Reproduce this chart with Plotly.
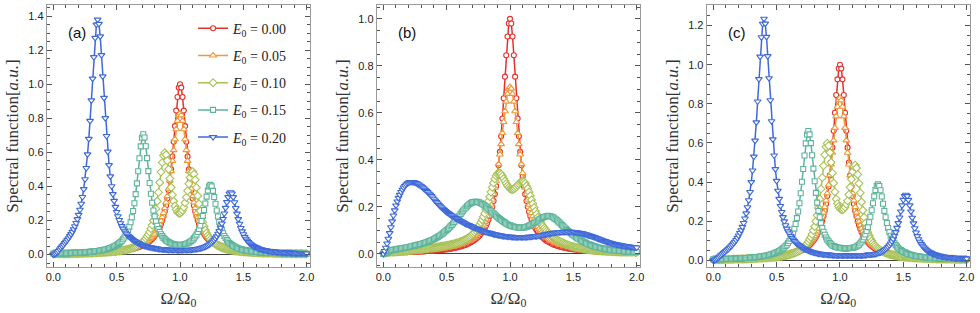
import plotly.graph_objects as go

# Sampling grid of Omega/Omega_0 (step 0.01)
X = [round(0.01 * i, 2) for i in range(201)]

labels = ["0.00", "0.05", "0.10", "0.15", "0.20"]

red = [.005,.005,.005,.005,.005,.005,.006,.006,.006,.006,
       .006,.006,.006,.006,.007,.007,.007,.007,.007,.007,
       .008,.008,.008,.008,.008,.009,.009,.009,.009,.010,
       .010,.010,.010,.011,.011,.012,.012,.012,.013,.013,
       .013,.014,.014,.015,.015,.016,.017,.017,.018,.019,
       .019,.020,.021,.022,.023,.024,.025,.026,.027,.028,
       .030,.031,.033,.035,.036,.038,.041,.043,.046,.049,
       .052,.055,.059,.063,.068,.073,.078,.085,.092,.100,
       .109,.120,.131,.145,.161,.179,.200,.225,.254,.288,
       .329,.377,.434,.500,.576,.662,.754,.845,.925,.980,
       1.000,
       .980,.925,.845,.754,.662,.576,.500,.434,.377,.329,
       .288,.254,.225,.200,.179,.161,.145,.131,.120,.109,
       .100,.092,.085,.078,.073,.068,.063,.059,.055,.052,
       .049,.046,.043,.041,.038,.036,.035,.033,.031,.030,
       .028,.027,.026,.025,.024,.023,.022,.021,.020,.019,
       .019,.018,.017,.017,.016,.015,.015,.014,.014,.013,
       .013,.013,.012,.012,.012,.011,.011,.010,.010,.010,
       .010,.009,.009,.009,.009,.008,.008,.008,.008,.008,
       .007,.007,.007,.007,.007,.007,.006,.006,.006,.006,
       .006,.006,.006,.006,.005,.005,.005,.005,.005,.005]

orange_ac = [.006,.006,.006,.006,.006,.006,.007,.007,.007,.007,
             .007,.007,.008,.008,.008,.008,.008,.008,.009,.009,
             .009,.009,.010,.010,.010,.010,.011,.011,.011,.012,
             .012,.012,.013,.013,.013,.014,.014,.015,.015,.016,
             .016,.017,.017,.018,.018,.019,.020,.020,.021,.022,
             .023,.024,.025,.026,.027,.028,.029,.031,.032,.033,
             .035,.037,.039,.041,.043,.045,.048,.051,.054,.057,
             .060,.064,.069,.073,.078,.084,.091,.098,.106,.114,
             .124,.136,.148,.163,.179,.198,.220,.244,.273,.306,
             .343,.386,.435,.490,.550,.613,.677,.736,.785,.818,
             .830,
             .818,.785,.736,.677,.613,.550,.490,.435,.386,.343,
             .306,.273,.244,.220,.198,.179,.163,.148,.136,.124,
             .114,.106,.098,.091,.084,.078,.073,.069,.064,.060,
             .057,.054,.051,.048,.045,.043,.041,.039,.037,.035,
             .033,.032,.031,.029,.028,.027,.026,.025,.024,.023,
             .022,.021,.020,.020,.019,.018,.018,.017,.017,.016,
             .016,.015,.015,.014,.014,.013,.013,.013,.012,.012,
             .012,.011,.011,.011,.010,.010,.010,.010,.009,.009,
             .009,.009,.008,.008,.008,.008,.008,.008,.007,.007,
             .007,.007,.007,.007,.006,.006,.006,.006,.006,.006]

orange_b = [.007,.007,.007,.007,.007,.007,.008,.008,.008,.008,
            .008,.008,.009,.009,.009,.009,.009,.010,.010,.010,
            .010,.011,.011,.011,.011,.012,.012,.012,.013,.013,
            .013,.014,.014,.015,.015,.016,.016,.016,.017,.018,
            .018,.019,.019,.020,.021,.021,.022,.023,.024,.025,
            .026,.027,.028,.029,.030,.032,.033,.034,.036,.038,
            .039,.041,.043,.046,.048,.051,.053,.056,.060,.063,
            .067,.071,.076,.081,.087,.093,.100,.107,.116,.125,
            .135,.147,.160,.174,.191,.209,.230,.254,.281,.311,
            .344,.382,.423,.467,.514,.561,.607,.648,.681,.703,
            .710,
            .703,.681,.648,.607,.561,.514,.467,.423,.382,.344,
            .311,.281,.254,.230,.209,.191,.174,.160,.147,.135,
            .125,.116,.107,.100,.093,.087,.081,.076,.071,.067,
            .063,.060,.056,.053,.051,.048,.046,.043,.041,.039,
            .038,.036,.034,.033,.032,.030,.029,.028,.027,.026,
            .025,.024,.023,.022,.021,.021,.020,.019,.019,.018,
            .018,.017,.016,.016,.016,.015,.015,.014,.014,.013,
            .013,.013,.012,.012,.012,.011,.011,.011,.011,.010,
            .010,.010,.010,.009,.009,.009,.009,.009,.008,.008,
            .008,.008,.008,.008,.007,.007,.007,.007,.007,.007]

green_a = [.004,.004,.004,.004,.004,.004,.004,.005,.005,.005,
           .005,.005,.005,.005,.006,.006,.006,.006,.006,.006,
           .007,.007,.007,.007,.007,.008,.008,.008,.008,.009,
           .009,.009,.010,.010,.010,.011,.011,.012,.012,.013,
           .013,.013,.014,.014,.015,.016,.016,.017,.017,.018,
           .019,.020,.021,.022,.023,.025,.026,.027,.029,.031,
           .033,.035,.038,.040,.043,.047,.050,.054,.059,.064,
           .070,.077,.085,.095,.106,.118,.133,.152,.173,.200,
           .230,.268,.313,.365,.423,.484,.540,.581,.598,.586,
           .551,.501,.446,.395,.350,.313,.285,.265,.250,.244,
           .242,.249,.260,.278,.304,.336,.374,.415,.453,.479,
           .487,.472,.439,.393,.345,.298,.256,.220,.190,.166,
           .144,.127,.112,.100,.089,.080,.073,.066,.061,.056,
           .051,.047,.044,.041,.038,.036,.033,.031,.029,.028,
           .026,.025,.024,.022,.021,.020,.019,.019,.018,.017,
           .016,.016,.015,.014,.014,.013,.013,.012,.012,.011,
           .011,.011,.010,.010,.010,.009,.009,.009,.009,.008,
           .008,.008,.008,.008,.007,.007,.007,.007,.007,.007,
           .006,.006,.006,.006,.006,.006,.006,.006,.005,.005,
           .005,.005,.005,.005,.005,.005,.005,.005,.004,.004,
           .004]

teal_a = [.006,.006,.006,.006,.006,.007,.007,.007,.007,.007,
          .008,.008,.008,.008,.009,.009,.009,.010,.010,.010,
          .011,.011,.012,.012,.012,.013,.014,.014,.015,.016,
          .017,.017,.018,.019,.020,.021,.022,.023,.025,.026,
          .028,.030,.031,.033,.036,.038,.041,.044,.048,.051,
          .056,.061,.067,.073,.081,.090,.100,.112,.127,.144,
          .164,.190,.219,.256,.301,.355,.418,.489,.565,.635,
          .686,.706,.687,.636,.566,.490,.420,.357,.304,.259,
          .223,.195,.169,.150,.133,.119,.108,.098,.090,.083,
          .078,.073,.069,.065,.063,.060,.059,.057,.057,.056,
          .056,.057,.057,.059,.061,.063,.066,.070,.075,.080,
          .087,.095,.106,.117,.132,.150,.171,.197,.227,.262,
          .300,.340,.376,.400,.409,.400,.374,.338,.298,.259,
          .223,.192,.166,.144,.125,.109,.097,.086,.077,.068,
          .062,.056,.051,.047,.043,.040,.036,.034,.032,.029,
          .028,.026,.024,.023,.022,.020,.019,.018,.017,.017,
          .016,.015,.014,.014,.013,.013,.012,.012,.012,.011,
          .011,.010,.010,.010,.009,.009,.009,.009,.008,.008,
          .008,.008,.007,.007,.007,.007,.007,.006,.006,.006,
          .006,.006,.006,.005,.005,.005,.005,.005,.005,.005,
          .005]

blue_a = [.000,.002,.006,.013,.021,.030,.039,.048,.057,.067,
          .076,.086,.096,.108,.120,.133,.149,.166,.185,.208,
          .233,.263,.298,.338,.384,.442,.508,.588,.679,.785,
          .905,1.033,1.159,1.272,1.350,1.379,1.354,1.281,1.171,1.046,
          .920,.801,.696,.604,.525,.459,.401,.355,.315,.280,
          .250,.225,.203,.184,.167,.152,.140,.129,.119,.110,
          .104,.098,.091,.085,.080,.076,.071,.067,.064,.060,
          .057,.054,.051,.049,.047,.045,.044,.042,.040,.039,
          .038,.036,.035,.034,.033,.032,.031,.031,.030,.029,
          .029,.028,.028,.028,.027,.027,.027,.027,.026,.026,
          .026,.026,.027,.027,.027,.027,.027,.028,.028,.029,
          .030,.031,.032,.033,.034,.035,.037,.039,.041,.044,
          .047,.050,.054,.059,.064,.070,.077,.085,.095,.107,
          .122,.138,.158,.182,.209,.241,.274,.308,.337,.358,
          .366,.358,.337,.307,.273,.240,.208,.181,.156,.136,
          .119,.104,.093,.082,.074,.066,.060,.054,.050,.045,
          .042,.039,.036,.033,.031,.029,.027,.026,.024,.023,
          .021,.020,.019,.018,.018,.017,.016,.015,.015,.014,
          .013,.013,.012,.012,.012,.011,.011,.010,.010,.010,
          .010,.009,.009,.009,.009,.008,.008,.008,.008,.008,
          .007]

green_b = [.002,.003,.004,.005,.006,.006,.007,.007,.008,.008,
           .009,.009,.010,.010,.011,.011,.012,.012,.013,.013,
           .014,.014,.015,.015,.016,.016,.017,.017,.018,.018,
           .019,.019,.020,.021,.022,.022,.023,.024,.025,.025,
           .026,.027,.028,.029,.030,.031,.032,.033,.034,.035,
           .036,.037,.038,.039,.040,.041,.043,.044,.046,.048,
           .050,.052,.054,.056,.059,.062,.065,.068,.072,.076,
           .081,.086,.092,.099,.106,.114,.123,.133,.145,.158,
           .172,.188,.206,.224,.243,.263,.283,.302,.319,.332,
           .340,.344,.344,.339,.331,.320,.310,.299,.290,.283,
           .277,.275,.274,.276,.280,.285,.292,.298,.304,.308,
           .308,.306,.300,.289,.278,.263,.247,.230,.213,.197,
           .182,.169,.156,.145,.135,.126,.117,.110,.103,.097,
           .091,.086,.081,.076,.072,.068,.064,.060,.057,.054,
           .051,.048,.046,.043,.041,.039,.037,.035,.033,.031,
           .030,.028,.027,.026,.025,.024,.023,.022,.021,.020,
           .019,.018,.018,.017,.016,.016,.015,.015,.014,.014,
           .013,.013,.012,.012,.012,.011,.011,.011,.010,.010,
           .010,.010,.009,.009,.009,.009,.008,.008,.008,.008,
           .008,.008,.007,.007,.007,.007,.007,.007,.007,.006,
           .006]

teal_b = [.000,.002,.004,.006,.009,.012,.014,.016,.017,.018,
          .019,.020,.021,.022,.023,.024,.025,.026,.027,.028,
          .029,.030,.031,.032,.034,.035,.037,.038,.039,.041,
          .042,.044,.046,.047,.049,.051,.053,.055,.058,.060,
          .063,.066,.069,.072,.076,.079,.083,.087,.092,.096,
          .101,.106,.111,.117,.123,.129,.135,.142,.149,.155,
          .162,.170,.177,.184,.190,.196,.202,.207,.212,.216,
          .219,.220,.221,.221,.221,.220,.218,.215,.212,.209,
          .205,.201,.196,.191,.186,.181,.176,.172,.167,.162,
          .157,.152,.148,.144,.140,.136,.133,.129,.126,.123,
          .121,.119,.117,.115,.114,.113,.112,.111,.111,.111,
          .112,.112,.113,.115,.117,.119,.122,.125,.128,.131,
          .134,.138,.142,.146,.149,.152,.155,.157,.159,.161,
          .162,.161,.160,.158,.155,.151,.147,.143,.138,.133,
          .128,.122,.117,.112,.107,.102,.097,.092,.088,.083,
          .079,.075,.071,.067,.064,.061,.058,.055,.052,.049,
          .046,.043,.041,.039,.037,.035,.033,.031,.030,.028,
          .027,.025,.024,.023,.022,.021,.020,.019,.018,.017,
          .016,.015,.015,.014,.014,.013,.013,.012,.012,.011,
          .011,.010,.010,.010,.010,.009,.009,.009,.009,.008,
          .008]

blue_b = [.000,.012,.026,.044,.064,.088,.113,.138,.163,.185,
          .206,.223,.238,.251,.263,.273,.282,.289,.295,.300,
          .303,.305,.306,.306,.305,.303,.301,.298,.295,.291,
          .287,.283,.278,.273,.268,.263,.257,.252,.246,.240,
          .232,.226,.220,.214,.208,.202,.197,.192,.187,.182,
          .178,.174,.170,.166,.163,.159,.156,.152,.149,.146,
          .143,.140,.137,.134,.131,.128,.126,.123,.121,.118,
          .116,.113,.111,.109,.107,.105,.103,.101,.099,.097,
          .095,.093,.092,.090,.089,.087,.086,.084,.083,.082,
          .081,.080,.079,.078,.077,.076,.075,.074,.074,.073,
          .073,.072,.072,.071,.071,.071,.071,.071,.071,.071,
          .071,.071,.071,.071,.072,.072,.073,.073,.074,.075,
          .076,.076,.077,.078,.079,.080,.081,.082,.083,.084,
          .085,.086,.087,.088,.089,.090,.090,.091,.092,.092,
          .093,.093,.094,.094,.094,.094,.094,.094,.094,.094,
          .093,.093,.092,.091,.090,.089,.088,.087,.086,.084,
          .083,.081,.079,.078,.076,.074,.072,.070,.068,.066,
          .064,.062,.060,.058,.056,.054,.052,.050,.049,.047,
          .046,.044,.043,.042,.040,.039,.038,.037,.036,.035,
          .034,.033,.032,.032,.031,.030,.029,.029,.028,.028,
          .027]

green_c = [.004,.004,.004,.004,.004,.004,.004,.004,.004,.005,
           .005,.005,.005,.005,.005,.005,.006,.006,.006,.006,
           .006,.006,.007,.007,.007,.007,.007,.008,.008,.008,
           .008,.009,.009,.009,.010,.010,.010,.011,.011,.012,
           .012,.013,.013,.013,.014,.014,.015,.016,.016,.017,
           .017,.018,.019,.020,.021,.022,.023,.025,.026,.027,
           .029,.031,.033,.035,.038,.040,.043,.047,.050,.054,
           .059,.064,.070,.077,.085,.095,.106,.118,.133,.152,
           .173,.200,.230,.268,.313,.365,.423,.484,.540,.581,
           .598,.586,.551,.501,.446,.395,.350,.313,.290,.275,
           .265,.259,.258,.263,.272,.287,.304,.336,.374,.415,
           .453,.479,.487,.472,.439,.393,.345,.298,.256,.220,
           .190,.166,.144,.127,.112,.100,.089,.080,.073,.066,
           .061,.056,.051,.047,.044,.041,.038,.036,.033,.031,
           .029,.028,.026,.025,.024,.022,.021,.020,.019,.019,
           .018,.017,.016,.016,.015,.014,.014,.013,.013,.012,
           .012,.011,.011,.011,.010,.010,.010,.009,.009,.009,
           .009,.008,.008,.008,.008,.008,.007,.007,.007,.007,
           .007,.007,.006,.006,.006,.006,.006,.006,.006,.006,
           .005,.005,.005,.005,.005,.005,.005,.005,.005,.005,
           .004]

teal_c = [.005,.005,.005,.006,.006,.006,.006,.006,.006,.007,
          .007,.007,.007,.007,.008,.008,.008,.008,.009,.009,
          .010,.010,.010,.011,.011,.012,.012,.012,.013,.013,
          .014,.014,.015,.016,.016,.017,.018,.019,.020,.021,
          .022,.023,.024,.026,.027,.029,.031,.033,.035,.038,
          .041,.044,.047,.051,.056,.061,.066,.073,.080,.089,
          .099,.111,.125,.141,.162,.186,.216,.250,.292,.343,
          .402,.467,.536,.598,.643,.661,.644,.599,.537,.469,
          .404,.345,.295,.253,.220,.190,.166,.146,.131,.117,
          .106,.097,.089,.082,.076,.073,.070,.068,.066,.064,
          .064,.063,.062,.061,.061,.061,.062,.062,.063,.063,
          .064,.066,.068,.071,.075,.080,.087,.096,.106,.118,
          .132,.150,.170,.195,.223,.256,.292,.327,.359,.381,
          .388,.380,.358,.326,.289,.253,.220,.191,.165,.144,
          .126,.111,.098,.087,.078,.070,.063,.057,.052,.048,
          .044,.041,.038,.035,.032,.030,.028,.027,.025,.023,
          .022,.021,.020,.019,.018,.017,.016,.016,.015,.014,
          .014,.013,.013,.012,.012,.011,.011,.011,.010,.010,
          .010,.009,.009,.009,.009,.008,.008,.008,.008,.008,
          .007,.007,.007,.007,.007,.007,.006,.006,.006,.006,
          .006]

blue_c = [.000,.001,.004,.009,.014,.020,.026,.031,.037,.042,
          .048,.054,.059,.065,.072,.079,.087,.095,.104,.115,
          .127,.140,.154,.171,.191,.214,.240,.271,.307,.349,
          .400,.459,.530,.612,.705,.812,.926,1.041,1.140,1.209,
          1.235,1.210,1.142,1.044,.931,.818,.711,.618,.536,.466,
          .406,.356,.314,.278,.247,.221,.199,.179,.162,.148,
          .137,.125,.115,.106,.098,.091,.085,.080,.075,.070,
          .066,.062,.059,.056,.053,.050,.048,.045,.043,.041,
          .039,.038,.036,.035,.034,.033,.032,.031,.030,.030,
          .029,.029,.028,.028,.027,.027,.027,.026,.026,.026,
          .026,.026,.026,.025,.025,.025,.025,.025,.025,.025,
          .025,.025,.025,.025,.025,.025,.025,.026,.026,.027,
          .027,.028,.029,.029,.030,.031,.031,.032,.033,.035,
          .037,.039,.041,.045,.048,.052,.057,.062,.069,.077,
          .086,.097,.110,.126,.144,.166,.190,.219,.250,.281,
          .309,.328,.335,.328,.309,.281,.250,.218,.189,.164,
          .142,.124,.108,.095,.084,.075,.067,.060,.054,.049,
          .045,.041,.038,.035,.032,.030,.028,.026,.024,.023,
          .021,.020,.019,.018,.017,.016,.016,.015,.014,.014,
          .013,.012,.012,.011,.011,.011,.010,.010,.010,.009,
          .009]

colors = ["#E4312B", "#F0983A", "#A8C256", "#5DB49A", "#3E69D9"]
symbols = ["circle", "triangle-up", "diamond", "square", "triangle-down"]
msizes = [5, 6, 6, 5, 6]

panels = [
    ("x", "y", [red, orange_ac, green_a, teal_a, blue_a]),
    ("x2", "y2", [red, orange_b, green_b, teal_b, blue_b]),
    ("x3", "y3", [red, orange_ac, green_c, teal_c, blue_c]),
]

fig = go.Figure()
for p, (xa, ya, series) in enumerate(panels):
    for j, ys in enumerate(series):
        fig.add_trace(go.Scatter(
            x=X, y=ys, xaxis=xa, yaxis=ya, mode="lines+markers",
            line=dict(color=colors[j], width=1.5),
            marker=dict(symbol=symbols[j], size=msizes[j], color="white",
                        line=dict(color=colors[j], width=1.1)),
            name="<i>E</i><sub>0</sub> = " + labels[j],
            legendgroup=str(j), showlegend=(p == 0),
        ))

tickfont = dict(family="Liberation Sans", size=11, color="#222")
titlefont = dict(family="Liberation Serif", size=17, color="#333")


def xax(domain, anchor):
    return dict(domain=domain, anchor=anchor, range=[-0.052, 2.026], automargin=False,
                tickmode="linear", tick0=0, dtick=0.5, tickformat=".1f",
                ticks="inside", ticklen=5, tickwidth=1, tickcolor="#555",
                minor=dict(tickmode="linear", tick0=0, dtick=0.1, ticks="inside",
                           ticklen=3, tickcolor="#555", showgrid=False),
                showline=True, linecolor="#9a9a9a", linewidth=1, mirror="allticks",
                showgrid=False, zeroline=False, tickfont=tickfont,
                title=dict(text="Ω/Ω<sub>0</sub>", font=titlefont, standoff=9))


def yax(domain, anchor, rng):
    return dict(domain=domain, anchor=anchor, range=rng, automargin=False,
                tickmode="linear", tick0=0, dtick=0.2, tickformat=".1f",
                ticks="inside", ticklen=5, tickwidth=1, tickcolor="#555",
                minor=dict(tickmode="linear", tick0=0, dtick=0.05, ticks="inside",
                           ticklen=3, tickcolor="#555", showgrid=False),
                showline=True, linecolor="#9a9a9a", linewidth=1, mirror="allticks",
                showgrid=False, zeroline=True, zerolinecolor="#444", zerolinewidth=1,
                tickfont=tickfont,
                title=dict(text="Spectral function[<i>a.u.</i>]", font=titlefont, standoff=5))


ydom = [0.147, 0.984]
fig.update_layout(
    width=980, height=313, margin=dict(l=0, r=0, t=0, b=0, autoexpand=False),
    paper_bgcolor="white", plot_bgcolor="white",
    xaxis=xax([0.0477, 0.3163], "y"),
    yaxis=yax(ydom, "x", [-0.073, 1.465]),
    xaxis2=xax([0.3844, 0.6531], "y2"),
    yaxis2=yax(ydom, "x2", [-0.056, 1.059]),
    xaxis3=xax([0.7211, 0.9898], "y3"),
    yaxis3=yax(ydom, "x3", [-0.034, 1.305]),
    legend=dict(x=0.197, y=0.9594, xanchor="left", yanchor="top",
                bgcolor="rgba(0,0,0,0)", traceorder="grouped", tracegroupgap=6,
                itemwidth=30, font=dict(family="Liberation Serif", size=14, color="#222")),
    showlegend=True,
)

for xp, lab in [(0.0786, "(a)"), (0.4153, "(b)"), (0.752, "(c)")]:
    fig.add_annotation(text=lab, xref="paper", yref="paper",
                       x=xp, y=0.8946, xanchor="center", yanchor="middle",
                       showarrow=False,
                       font=dict(family="Liberation Sans", size=15, color="#111"))

fig.write_html("out.html", config={"displayModeBar": False},
               post_script="document.body.style.margin='0px';")
